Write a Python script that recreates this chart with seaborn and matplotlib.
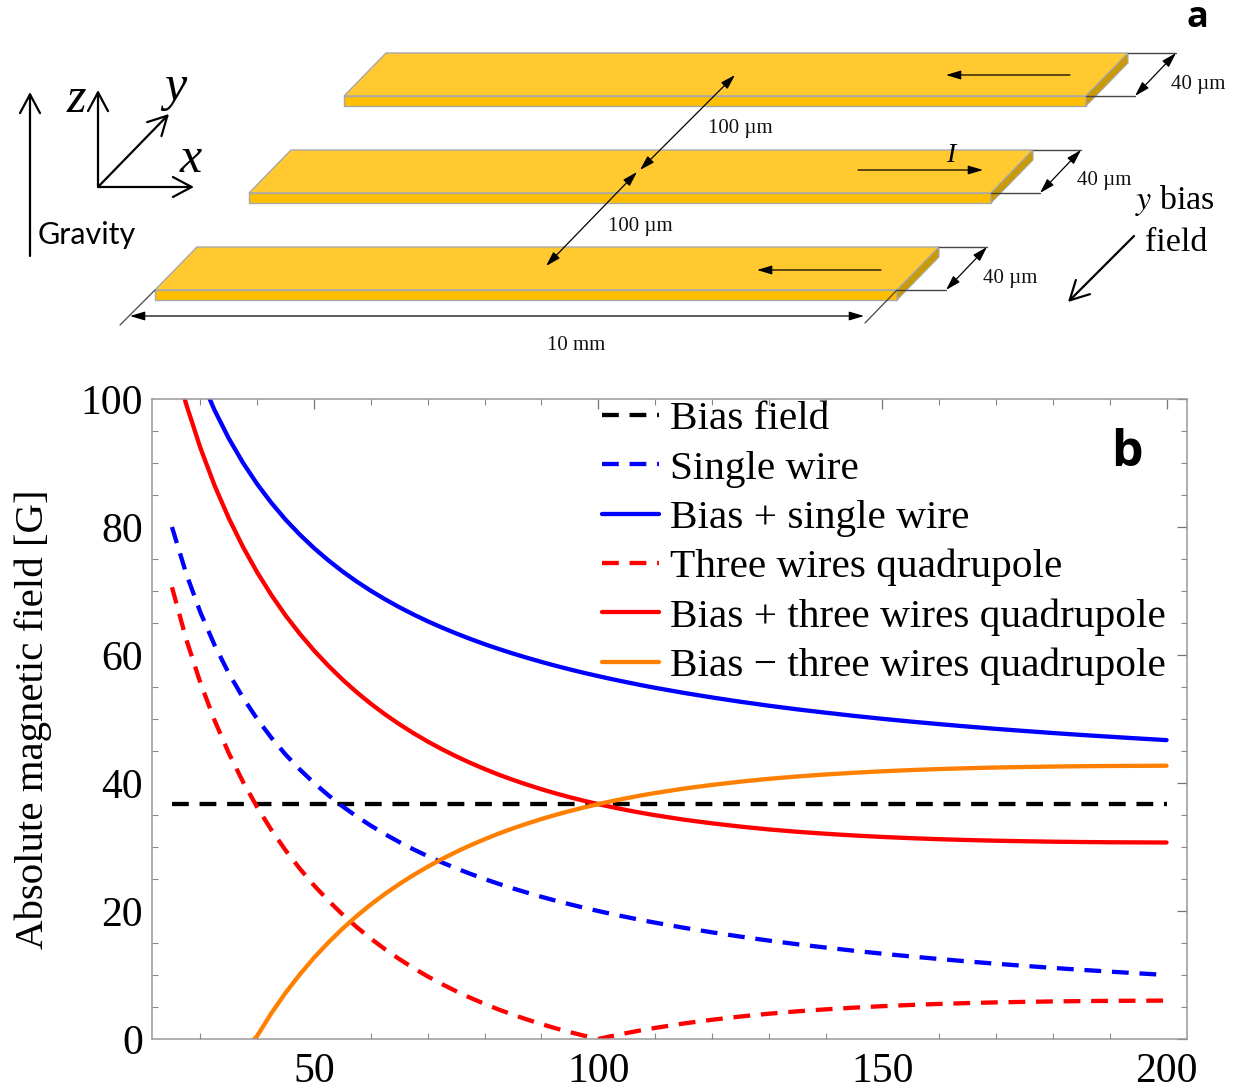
import pandas as pd
import seaborn as sns
import matplotlib.pyplot as plt
from matplotlib.patches import Polygon
sns.set_theme(style="white")
plt.rcParams['font.family'] = ['Liberation Serif', 'DejaVu Serif']
plt.rcParams['mathtext.fontset'] = 'stix'
plt.rcParams['text.color'] = 'black'

W, H = 1234, 1090

# values
pos = [25, 27.5, 30, 32.5, 35, 37.5, 40, 42.5, 45, 47.5, 50, 52.5, 55, 57.5, 60, 62.5, 65, 67.5, 70, 72.5,
       75, 77.5, 80, 82.5, 85, 87.5, 90, 92.5, 95, 97.5, 100, 102.5, 105, 107.5, 110, 115, 120, 125, 130,
       135, 140, 145, 150, 155, 160, 165, 170, 175, 180, 185, 190, 195, 200]
bias = [36.7] * len(pos)
single = [80, 72.73, 66.67, 61.54, 57.14, 53.33, 50, 47.06, 44.44, 42.11, 40, 38.1, 36.36, 34.78, 33.33, 32,
          30.77, 29.63, 28.57, 27.59, 26.67, 25.81, 25, 24.24, 23.53, 22.86, 22.22, 21.62, 21.05, 20.51, 20,
          19.51, 19.05, 18.6, 18.18, 17.39, 16.67, 16, 15.38, 14.81, 14.29, 13.79, 13.33, 12.9, 12.5, 12.12,
          11.76, 11.43, 11.11, 10.81, 10.53, 10.26, 10]
bias_single = [116.7, 109.43, 103.37, 98.24, 93.84, 90.03, 86.7, 83.76, 81.14, 78.81, 76.7, 74.8, 73.06, 71.48,
               70.03, 68.7, 67.47, 66.33, 65.27, 64.29, 63.37, 62.51, 61.7, 60.94, 60.23, 59.56, 58.92, 58.32,
               57.75, 57.21, 56.7, 56.21, 55.75, 55.3, 54.88, 54.09, 53.37, 52.7, 52.08, 51.51, 50.99, 50.49,
               50.03, 49.6, 49.2, 48.82, 48.46, 48.13, 47.81, 47.51, 47.23, 46.96, 46.7]
three = [70.59, 62.5, 55.66, 49.78, 44.67, 40.18, 36.21, 32.66, 29.47, 26.61, 24, 21.64, 19.47, 17.49, 15.68,
         14.02, 12.49, 11.08, 9.78, 8.58, 7.47, 6.44, 5.49, 4.6, 3.79, 3.04, 2.33, 1.68, 1.08, 0.52, 0, 0.48,
         0.93, 1.35, 1.73, 2.42, 3, 3.51, 3.95, 4.32, 4.63, 4.9, 5.13, 5.32, 5.48, 5.61, 5.72, 5.8, 5.87, 5.92,
         5.96, 5.98, 6]
bias_three = [107.29, 99.2, 92.36, 86.48, 81.37, 76.88, 72.91, 69.36, 66.17, 63.31, 60.7, 58.34, 56.17, 54.19,
              52.38, 50.72, 49.19, 47.78, 46.48, 45.28, 44.17, 43.14, 42.19, 41.3, 40.49, 39.74, 39.03, 38.38,
              37.78, 37.22, 36.7, 36.22, 35.77, 35.35, 34.97, 34.28, 33.7, 33.19, 32.75, 32.38, 32.07, 31.8,
              31.57, 31.38, 31.22, 31.09, 30.98, 30.9, 30.83, 30.78, 30.74, 30.72, 30.7]
pos_minus = [39.5] + pos[6:]
bias_minus = [0, 0.49, 4.04, 7.23, 10.09, 12.7, 15.06, 17.23, 19.21, 21.02, 22.68, 24.21, 25.62, 26.92, 28.12,
              29.23, 30.26, 31.21, 32.1, 32.91, 33.66, 34.37, 35.02, 35.62, 36.18, 36.7, 37.18, 37.63, 38.05,
              38.43, 39.12, 39.7, 40.21, 40.65, 41.02, 41.33, 41.6, 41.83, 42.02, 42.18, 42.31, 42.42, 42.5,
              42.57, 42.62, 42.66, 42.68, 42.7]

names = ["Bias field", "Single wire", "Bias + single wire", "Three wires quadrupole",
         "Bias + three wires quadrupole", "Bias \u2212 three wires quadrupole"]
xticks = [50, 100, 150, 200]
yticks = [0, 20, 40, 60, 80, 100]

fig = plt.figure(figsize=(W / 100, H / 100), dpi=100)

# full figure overlay in pixel coordinates for the wire sketch
top = fig.add_axes([0, 0, 1, 1])
top.set_xlim(0, W)
top.set_ylim(H, 0)
top.axis("off")

def wire(x, y):
    top.add_patch(Polygon([(x, y), (x + 42, y - 43), (x + 784, y - 43), (x + 742, y)], fc="#FFC92F", ec="#A8A8A8", lw=1))
    top.add_patch(Polygon([(x, y), (x + 742, y), (x + 742, y + 10), (x, y + 10)], fc="#FFBF00", ec="#A8A8A8", lw=1))
    top.add_patch(Polygon([(x + 742, y), (x + 784, y - 43), (x + 784, y - 33), (x + 742, y + 10)], fc="#C99A06", ec="#A8A8A8", lw=0.8))
    # 40 um width marker
    top.plot([x + 784, x + 832], [y - 43, y - 43], color="#444444", lw=1)
    top.plot([x + 742, x + 791], [y, y], color="#444444", lw=1)
    arrow((x + 832, y - 43), (x + 791, y), "<|-|>")

def arrow(a, b, style="-|>", lw=0.9, color="black"):
    if style in ("-|>", "<|-|>"):
        style = style + ",head_length=0.5,head_width=0.15"
    else:
        style = style + ",head_length=0.75,head_width=0.4"
    top.annotate("", xy=b, xytext=a, arrowprops=dict(arrowstyle=style, lw=lw, color=color,
                                                     shrinkA=0, shrinkB=0, mutation_scale=18))

wire(344, 96)
wire(249, 193)
wire(155, 290)

arrow((1070, 75), (946, 75))
arrow((858, 170), (983, 170))
arrow((881, 270), (757, 270))
arrow((735, 75), (640, 170), "<|-|>")
arrow((637, 172), (546, 266), "<|-|>")
arrow((130, 316), (864, 316), "<|-|>")
top.plot([120, 155], [325, 290], color="#444444", lw=0.9)
top.plot([865, 897], [323, 290], color="#444444", lw=0.9)

arrow((98, 187), (98, 90), "->", 1.6)
arrow((98, 187), (194, 187), "->", 1.6)
arrow((98, 187), (169, 114), "->", 1.6)
arrow((30, 256), (30, 92), "->", 1.6)
arrow((1134, 236), (1068, 302), "->", 1.6)

for tx, ty, s in [(1198, 84, "40 \u00b5m"), (1104, 181, "40 \u00b5m"), (1010, 278, "40 \u00b5m"),
                  (740, 129, "100 \u00b5m"), (640, 226, "100 \u00b5m"), (576, 345, "10 mm")]:
    top.text(tx, ty, s, fontsize=15, ha="center", va="center", color="#111111")
top.text(951, 155, "I", fontsize=20, style="italic", ha="center", va="center")
top.text(76, 100, "z", fontsize=36, style="italic", ha="center", va="center")
top.text(175, 88, "y", fontsize=36, style="italic", ha="center", va="center")
top.text(191, 160, "x", fontsize=36, style="italic", ha="center", va="center")
top.text(87, 235, "Gravity", fontsize=22, family="Lato", ha="center", va="center")
top.text(1175, 201, "$y$ bias", fontsize=24.5, ha="center", va="center")
top.text(1176, 243, "field", fontsize=24.5, ha="center", va="center")
top.text(1197, 0, "a", fontsize=26, family="Open Sans", weight="bold", ha="center", va="top")

# panel b
left, right, upper, lower = 151.5, 1187, 399, 1039
ax = fig.add_axes([left / W, 1 - lower / H, (right - left) / W, (lower - upper) / H])
ax.patch.set_alpha(0)

dash = (0, (3.9, 2.5))
sns.lineplot(x=pos, y=bias, color="black", linestyle=dash, lw=3.1, label=names[0], errorbar=None, ax=ax)
sns.lineplot(x=pos, y=single, color="#0000FF", linestyle=dash, lw=3.1, label=names[1], errorbar=None, ax=ax)
sns.lineplot(x=pos, y=bias_single, color="#0000FF", lw=3.1, label=names[2], errorbar=None, ax=ax)
sns.lineplot(x=pos, y=three, color="#FF0000", linestyle=dash, lw=3.1, label=names[3], errorbar=None, ax=ax)
sns.lineplot(x=pos, y=bias_three, color="#FF0000", lw=3.1, label=names[4], errorbar=None, ax=ax)
sns.lineplot(x=pos_minus, y=bias_minus, color="#FF8000", lw=3.1, label=names[5], errorbar=None, ax=ax)

ax.set_xlim(21.4, 203.6)
ax.set_ylim(0, 100)
ax.set_xticks(xticks)
ax.set_yticks(yticks)
ax.set_xticks(range(30, 201, 10), minor=True)
ax.set_yticks(range(0, 101, 5), minor=True)
ax.tick_params(which="major", direction="in", length=7.5, width=0.9, color="#777777", top=True, right=True,
               labelsize=30, labelcolor="black")
ax.tick_params(which="minor", direction="in", length=4.5, width=0.8, color="#888888", top=True, right=True,
               bottom=True, left=True)
ax.tick_params(axis="x", which="major", pad=9.5)
ax.tick_params(axis="y", which="major", pad=6)
for s in ax.spines.values():
    s.set_color("#999999")
    s.set_linewidth(1.1)
ax.set_xlabel("")
ax.set_ylabel("Absolute magnetic field [G]", fontsize=29.4, va="center", color="black")
ax.yaxis.set_label_coords((33 - left) / (right - left), 0.5)

leg = ax.legend(loc="upper left", bbox_to_anchor=((602 - left) / (right - left), 0.998), frameon=False,
                fontsize=29.7, borderpad=0, borderaxespad=0, handlelength=1.37, handletextpad=0.27, labelspacing=0.28,
                labelcolor="black")
ax.text(1127, 453, "b", transform=top.transData, fontsize=36, family="Open Sans", weight="bold", ha="center", va="center")

fig.savefig("out.png", dpi=100)
